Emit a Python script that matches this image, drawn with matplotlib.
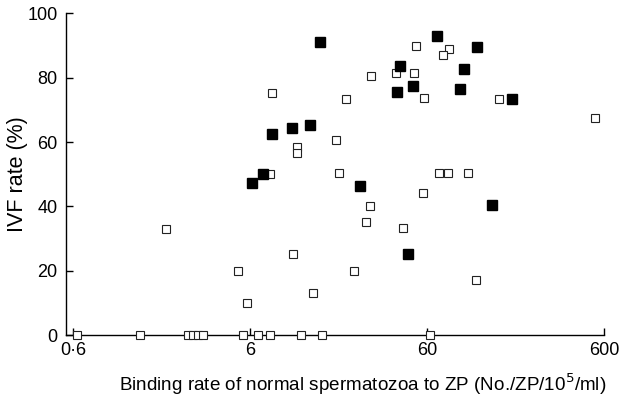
import matplotlib
matplotlib.use("Agg")
import matplotlib.pyplot as plt
from matplotlib.ticker import FixedLocator, NullLocator

plt.rcParams['font.family'] = ['Liberation Sans', 'DejaVu Sans']

# filled squares: binding rate (No./ZP/10^5/ml) and IVF rate (%)
filled_x = [14.9, 68.2, 115, 42.2, 97, 50.0, 40.6, 92, 181, 13.1,
            7.98, 10.4, 7.10, 6.15, 140, 46.9, 25.1]
filled_y = [91.2, 93.0, 89.7, 83.8, 82.7, 77.5, 75.6, 76.5, 73.4, 65.3,
            62.5, 64.4, 50.1, 47.3, 40.4, 25.2, 46.4]

# open squares
open_x = [52.0, 79.8, 73.8, 29.0, 40.1, 50.7, 20.9, 57.7, 153, 533,
          18.4, 11.1, 11.1, 19.1, 70.1, 78.8, 102, 56.9, 7.98, 7.78,
          28.6, 27.1, 43.9, 23.2, 13.6, 114, 2.01, 5.13, 5.77, 10.5,
          0.632, 1.44, 2.68, 2.86, 3.05, 3.25, 5.47, 6.65, 7.78, 11.6,
          15.3, 62.4]
open_y = [89.9, 89.0, 87.1, 80.6, 81.5, 81.5, 73.4, 73.7, 73.4, 67.5,
          60.7, 58.5, 56.5, 50.4, 50.4, 50.4, 50.4, 44.2, 75.3, 50.1,
          40.1, 35.1, 33.2, 19.9, 13.0, 17.1, 33.0, 19.9, 10.0, 25.2,
          0, 0, 0, 0, 0, 0, 0, 0, 0, 0,
          0, 0]

x_ticks = [0.6, 6, 60, 600]
x_tick_labels = ['0\u00b76', '6', '60', '600']
y_ticks = [0, 20, 40, 60, 80, 100]

fig = plt.figure(figsize=(6.19, 3.99), dpi=100)
ax = fig.add_axes([0.1066, 0.1604, 0.8692, 0.8058])

ax.plot(open_x, open_y, linestyle='none', marker='s', markersize=6,
        markerfacecolor='white', markeredgecolor='#222222',
        markeredgewidth=0.8, clip_on=False, zorder=3)
ax.plot(filled_x, filled_y, linestyle='none', marker='s', markersize=6.5,
        markerfacecolor='black', markeredgecolor='black', clip_on=False,
        zorder=4)

ax.set_xscale('log')
ax.set_xlim(0.547, 600)
ax.set_ylim(0, 100)

ax.xaxis.set_major_locator(FixedLocator(x_ticks))
ax.xaxis.set_minor_locator(NullLocator())
ax.set_xticklabels(x_tick_labels)
ax.set_yticks(y_ticks)

for side in ['top', 'right']:
    ax.spines[side].set_visible(False)
for side in ['left', 'bottom']:
    ax.spines[side].set_linewidth(1.0)

ax.tick_params(axis='both', direction='in', length=5, width=1.0,
               labelsize=13, colors='black')
ax.tick_params(axis='x', pad=5)
ax.tick_params(axis='y', pad=6)

ax.set_xlabel('Binding rate of normal spermatozoa to ZP (No./ZP/10$^5$/ml)',
              fontsize=13.6)
ax.xaxis.set_label_coords(0.552, -0.115)
ax.set_ylabel('IVF rate (%)', fontsize=15.5)
ax.yaxis.set_label_coords(-0.07, 0.5)

fig.savefig('out.png', dpi=100)
